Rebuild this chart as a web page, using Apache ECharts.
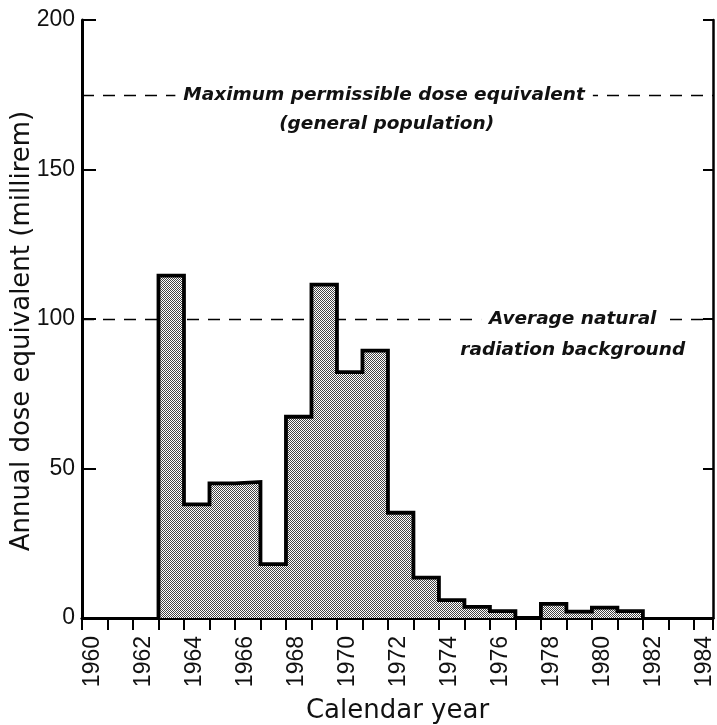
<!DOCTYPE html>
<html lang="en">
<head>
    <meta charset="UTF-8">
    <title>annual dose</title>
    <script src="https://cdn.jsdelivr.net/npm/echarts@6/dist/echarts.min.js"></script>
    <style>
        html, body { margin: 0; padding: 0; background: #fff; }
        #main { width: 717px; height: 725px; }
    </style>
</head>
<body>
<div id="main"></div>
<script>
    // yearly bins: each value covers [year, year + 1)
    let years = [1963, 1964, 1965, 1966, 1967, 1968, 1969, 1970, 1971, 1972,
        1973, 1974, 1975, 1976, 1977, 1978, 1979, 1980, 1981];
    let doses = [114.5, 38, 45, 45.5, 18, 67.3, 111.5, 82.2, 89.4, 35.2,
        13.5, 6, 3.7, 2.3, 0, 4.7, 2.1, 3.5, 2.3];
    let refValues = [175, 100];
    let yTicks = [0, 50, 100, 150, 200];

    // step outline: start at 0, close back to 0 at the end of the last bin
    let stepData = [[years[0], 0]];
    years.forEach((y, i) => stepData.push([y, doses[i]]));
    stepData.push([years[years.length - 1] + 1, 0]);

    // dotted grey fill, like the halftone in the print
    let cv = document.createElement('canvas');
    cv.width = 2;
    cv.height = 2;
    let ctx = cv.getContext('2d');
    ctx.fillStyle = '#ffffff';
    ctx.fillRect(0, 0, 2, 2);
    ctx.fillStyle = '#444444';
    ctx.fillRect(0, 0, 1, 1);
    ctx.fillRect(1, 1, 1, 1);

    let tickFont = {fontFamily: 'Liberation Sans', fontSize: 23, color: '#111'};
    let titleFont = {fontFamily: 'DejaVu Sans', fontSize: 26, color: '#111'};

    let myChart = echarts.init(document.getElementById('main'), null, {renderer: 'canvas'});
    let option = {
        animation: false,
        backgroundColor: '#fff',
        grid: {left: 82, right: 4, top: 20, bottom: 107, outerBoundsMode: 'none', containLabel: false},
        xAxis: [{
            type: 'value',
            min: 1960,
            max: 1984.75,
            interval: 1,
            position: 'bottom',
            name: 'Calendar year',
            nameLocation: 'middle',
            nameGap: 80,
            nameMoveOverlap: false,
            nameTextStyle: titleFont,
            axisLine: {lineStyle: {color: '#000', width: 3}},
            axisTick: {inside: false, length: 10, lineStyle: {color: '#000', width: 2}},
            axisLabel: Object.assign({
                rotate: 90,
                margin: 18,
                verticalAlign: 'top',
                lineHeight: 21,
                formatter: v => (v % 2 === 0 ? String(v) : '')
            }, tickFont),
            splitLine: {show: false}
        }, {
            type: 'value',
            min: 1960,
            max: 1984.75,
            interval: 1,
            position: 'top',
            axisLine: {lineStyle: {color: '#000', width: 2.5}},
            axisTick: {inside: true, length: 12, lineStyle: {color: '#000', width: 2}},
            axisLabel: {show: false},
            splitLine: {show: false}
        }],
        yAxis: [{
            type: 'value',
            min: yTicks[0],
            max: yTicks[yTicks.length - 1],
            interval: 50,
            name: 'Annual dose equivalent (millirem)',
            nameLocation: 'middle',
            nameGap: 47,
            nameMoveOverlap: false,
            nameTextStyle: Object.assign({padding: [0, 24, 0, 0]}, titleFont),
            axisLine: {show: true, lineStyle: {color: '#000', width: 3}},
            axisTick: {show: true, inside: true, length: 14, lineStyle: {color: '#000', width: 2}},
            axisLabel: Object.assign({margin: 7}, tickFont),
            splitLine: {show: false}
        }, {
            type: 'value',
            min: yTicks[0],
            max: yTicks[yTicks.length - 1],
            interval: 50,
            position: 'right',
            axisLine: {show: true, lineStyle: {color: '#000', width: 2.5}},
            axisTick: {show: true, inside: true, length: 10, lineStyle: {color: '#000', width: 2}},
            axisLabel: {show: false},
            splitLine: {show: false}
        }],
        series: [{
            name: 'dose',
            type: 'line',
            step: 'end',
            symbol: 'none',
            z: 3,
            data: stepData,
            lineStyle: {color: '#000', width: 3.8, join: 'miter'},
            areaStyle: {color: {image: cv, repeat: 'repeat'}, opacity: 1},
            markLine: {
                silent: true,
                symbol: 'none',
                z: 1,
                label: {show: false},
                lineStyle: {color: '#000', width: 1.3, type: [12, 9]},
                data: refValues.map(v => ({yAxis: v}))
            }
        }]
    };
    myChart.setOption(option);

    // annotation text, anchored to data coordinates
    let annoFont = 'italic bold 18.5px "DejaVu Sans"';
    function textAt(xv, yv, dy, txt, cover) {
        let p = myChart.convertToPixel({xAxisIndex: 0, yAxisIndex: 0}, [xv, yv]);
        let style = {
            text: txt,
            font: annoFont,
            fill: '#111',
            align: 'center',
            verticalAlign: 'middle'
        };
        if (cover) {
            style.backgroundColor = '#fff';
            style.padding = [2, 8];
        }
        return {type: 'text', x: p[0], y: p[1] + dy, z: 10, style: style};
    }

    myChart.setOption({
        graphic: [
            textAt(1971.85, refValues[0], 0, 'Maximum permissible dose equivalent', true),
            textAt(1971.95, refValues[0], 29, '(general population)', false),
            textAt(1979.25, refValues[1], 0, 'Average natural', true),
            textAt(1979.25, refValues[1], 31, 'radiation background', false)
        ]
    });
</script>
</body>
</html>
